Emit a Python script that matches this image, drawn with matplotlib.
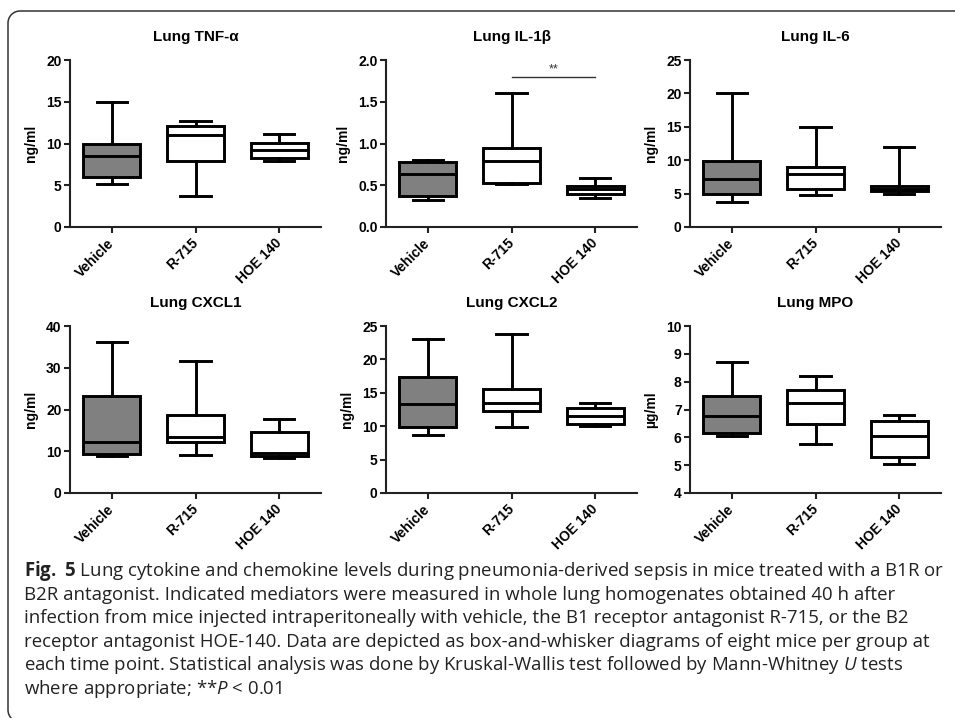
import matplotlib
matplotlib.use("Agg")
import matplotlib.pyplot as plt
from matplotlib.patches import Arc

plt.rcParams['font.family'] = ['Liberation Sans', 'DejaVu Sans']
plt.rcParams['mathtext.fontset'] = 'custom'
plt.rcParams['mathtext.rm'] = 'Open Sans'
plt.rcParams['mathtext.it'] = 'Open Sans:italic'
plt.rcParams['mathtext.bf'] = 'Open Sans:bold'

# groups on the x axis
groups = ['Vehicle', 'R-715', 'HOE 140']
box_colors = ['#808080', 'white', 'white']

# five-number summaries per group: [min, q1, median, q3, max]
tnf = [[5.1, 6.0, 8.55, 10.0, 15.0],
       [3.7, 7.95, 11.0, 12.1, 12.75],
       [7.9, 8.3, 9.2, 10.1, 11.1]]
il1b = [[0.32, 0.37, 0.63, 0.78, 0.80],
        [0.51, 0.53, 0.785, 0.945, 1.61],
        [0.345, 0.39, 0.45, 0.495, 0.59]]
il6 = [[3.75, 4.9, 7.25, 9.9, 20.0],
       [4.75, 5.65, 8.0, 9.0, 15.0],
       [4.9, 5.4, 5.75, 6.2, 12.0]]
cxcl1 = [[8.8, 9.4, 12.2, 23.2, 36.2],
         [9.1, 12.2, 13.3, 18.6, 31.7],
         [8.4, 8.9, 9.6, 14.5, 17.8]]
cxcl2 = [[8.65, 9.9, 13.25, 17.35, 23.0],
         [9.85, 12.3, 13.4, 15.6, 23.75],
         [10.0, 10.4, 11.55, 12.7, 13.5]]
mpo = [[6.03, 6.17, 6.76, 7.47, 8.72],
       [5.76, 6.47, 7.23, 7.7, 8.22],
       [5.03, 5.31, 6.04, 6.57, 6.8]]

titles = ['Lung TNF-α', 'Lung IL-1β', 'Lung IL-6',
          'Lung CXCL1', 'Lung CXCL2', 'Lung MPO']
ylabels = ['ng/ml', 'ng/ml', 'ng/ml', 'ng/ml', 'ng/ml', 'µg/ml']
yranges = [(0, 20, 5), (0, 2.0, 0.5), (0, 25, 5),
           (0, 40, 10), (0, 25, 5), (4, 10, 1)]
panels = [tnf, il1b, il6, cxcl1, cxcl2, mpo]

W, H = 955, 718
fig = plt.figure(figsize=(W / 100, H / 100), dpi=100)

# frame: top and left edges with rounded corners (pixel coordinates)
bg = fig.add_axes([0, 0, 1, 1], zorder=-1)
bg.axis('off')
fc = '#333333'
rad = 12
top_y = H - 11
bg.plot([8 + rad, W + 5], [top_y, top_y], color=fc, lw=1.1, solid_capstyle='butt')
bg.plot([8, 8], [top_y - rad, rad - 4], color=fc, lw=1.1, solid_capstyle='butt')
bg.add_patch(Arc((8 + rad, top_y - rad), 2 * rad, 2 * rad, theta1=90, theta2=180, color=fc, lw=1.1))
bg.add_patch(Arc((8 + rad, rad - 4), 2 * rad, 2 * rad, theta1=180, theta2=270, color=fc, lw=1.1))
bg.set_xlim(0, W)
bg.set_ylim(0, H)

lefts = [70, 386, 690]
tops = [60, 326]
aw, ah = 251, 167

for i, stats in enumerate(panels):
    r, c = divmod(i, 3)
    ax = fig.add_axes([lefts[c] / W, (H - tops[r] - ah) / H, aw / W, ah / H])
    bxp_stats = [dict(whislo=s[0], q1=s[1], med=s[2], q3=s[3], whishi=s[4], fliers=[])
                 for s in stats]
    lw = 2.1
    bp = ax.bxp(bxp_stats, positions=[1, 2, 3], widths=0.68, patch_artist=True,
                showfliers=False,
                boxprops=dict(lw=lw, edgecolor='black'),
                medianprops=dict(lw=lw, color='black'),
                whiskerprops=dict(lw=lw, color='black'),
                capprops=dict(lw=lw, color='black'),
                capwidths=0.36)
    for patch, col in zip(bp['boxes'], box_colors):
        patch.set_facecolor(col)
    lo, hi, step = yranges[i]
    ax.set_xlim(0.5, 3.5)
    ax.set_ylim(lo, hi)
    ticks = [lo + k * step for k in range(int(round((hi - lo) / step)) + 1)]
    ax.set_yticks(ticks)
    if i == 1:
        ax.set_yticklabels(['%.1f' % t for t in ticks])
    ax.set_xticks([1, 2, 3])
    ax.set_xticklabels(groups, rotation=45, ha='right', va='center',
                       rotation_mode='anchor')
    for sp in ['top', 'right']:
        ax.spines[sp].set_visible(False)
    for sp in ['left', 'bottom']:
        ax.spines[sp].set_linewidth(1.5)
        ax.spines[sp].set_color('#222222')
    ax.tick_params(axis='both', width=1.5, length=4, labelsize=10, color='#222222', pad=2)
    ax.tick_params(axis='x', pad=6)
    for lab in ax.get_xticklabels() + ax.get_yticklabels():
        lab.set_fontweight('bold')
    ax.set_title(titles[i], fontsize=11, fontweight='bold', pad=14)
    ax.set_ylabel(ylabels[i], fontsize=10, fontweight='bold', labelpad=6)

    if i == 1:
        ax.plot([2, 3], [1.8, 1.8], color='#333333', lw=1.0)
        ax.text(2.5, 1.82, '**', ha='center', va='bottom', fontsize=9, color='#333333')

caption = [
    r"$\bf{Fig.\ 5}$ Lung cytokine and chemokine levels during pneumonia-derived sepsis in mice treated with a B1R or",
    "B2R antagonist. Indicated mediators were measured in whole lung homogenates obtained 40 h after",
    "infection from mice injected intraperitoneally with vehicle, the B1 receptor antagonist R-715, or the B2",
    "receptor antagonist HOE-140. Data are depicted as box-and-whisker diagrams of eight mice per group at",
    r"each time point. Statistical analysis was done by Kruskal-Wallis test followed by Mann-Whitney $\it{U}$ tests",
    r"where appropriate; **$\it{P}$ < 0.01",
]
for k, line in enumerate(caption):
    fig.text(24 / W, 1 - (576 + k * 23.6) / H, line, family='Open Sans',
             fontsize=13.4, va='baseline', ha='left', color='#222222')

fig.savefig('out.png', dpi=100)
